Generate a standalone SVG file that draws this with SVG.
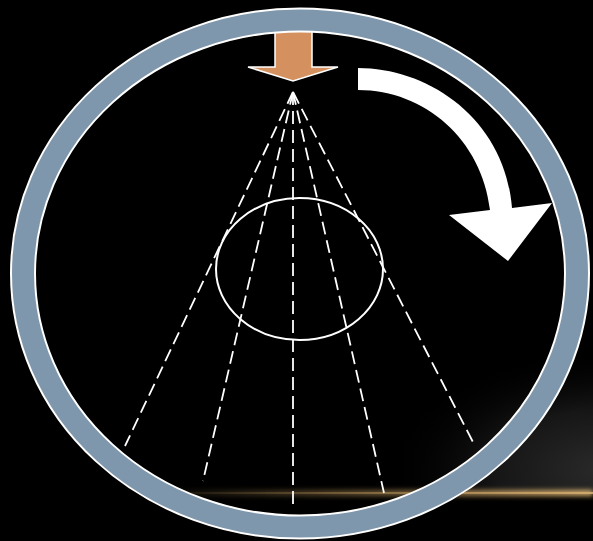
<svg xmlns="http://www.w3.org/2000/svg" width="593" height="541" viewBox="0 0 593 541">
<style>
.ray{stroke:#fff;stroke-width:1.8;stroke-dasharray:13 6;fill:none}
.edge{fill:none;stroke:#fff;stroke-width:2}
</style>
<defs>
<linearGradient id="streak" x1="150" y1="0" x2="593" y2="0" gradientUnits="userSpaceOnUse">
<stop offset="0" stop-color="#c9a060" stop-opacity="0"/>
<stop offset="0.35" stop-color="#c9a060" stop-opacity="0.35"/>
<stop offset="1" stop-color="#d8b070" stop-opacity="1"/>
</linearGradient>
<radialGradient id="haze" cx="605" cy="470" r="220" gradientUnits="userSpaceOnUse" gradientTransform="translate(605 470) scale(1 0.55) translate(-605 -470)">
<stop offset="0" stop-color="#2a2a2a"/>
<stop offset="0.5" stop-color="#161616"/>
<stop offset="1" stop-color="#000" stop-opacity="0"/>
</radialGradient>
<filter id="blur" x="-10%" y="-300%" width="120%" height="700%"><feGaussianBlur stdDeviation="2.5"/></filter>
</defs>
<rect width="593" height="541" fill="#000"/>
<rect x="370" y="340" width="223" height="153" fill="url(#haze)"/>
<rect x="150" y="490" width="443" height="6" fill="url(#streak)" filter="url(#blur)"/>
<rect x="170" y="492" width="423" height="2" fill="url(#streak)" opacity="0.8"/>

<g id="connectors">
<line class="ray" x1="293" y1="92" x2="125" y2="446"/>
<line class="ray" x1="293" y1="92" x2="203" y2="481"/>
<line class="ray" x1="293" y1="92" x2="293" y2="505"/>
<line class="ray" x1="293" y1="92" x2="384" y2="493"/>
<line class="ray" x1="293" y1="92" x2="475" y2="446"/>
</g>

<g id="target">
<ellipse cx="299.5" cy="269" rx="83.5" ry="71" fill="none" stroke="#fff" stroke-width="2"/>
</g>

<g id="source-arrow">
<path d="M275 25 L312 25 L312 67 L338 67 L293 81 L248 67 L275 67 Z" fill="#D4915F" stroke="#fff" stroke-width="1.5" stroke-linejoin="miter"/>
</g>

<g id="ring">
<ellipse cx="300" cy="273.5" rx="277" ry="253.5" fill="none" stroke="#7F97AC" stroke-width="23"/>
<ellipse class="edge" cx="300" cy="273.5" rx="289" ry="265"/>
<ellipse class="edge" cx="300" cy="273.5" rx="265" ry="242"/>
</g>

<g id="rotation-arrow">
<path d="M358 68 C430 68 505 120 512 208 L552 203 L508 261 L449 215 L490 210 C482 140 425 90 358 90 Z" fill="#fff"/>
</g>
</svg>
